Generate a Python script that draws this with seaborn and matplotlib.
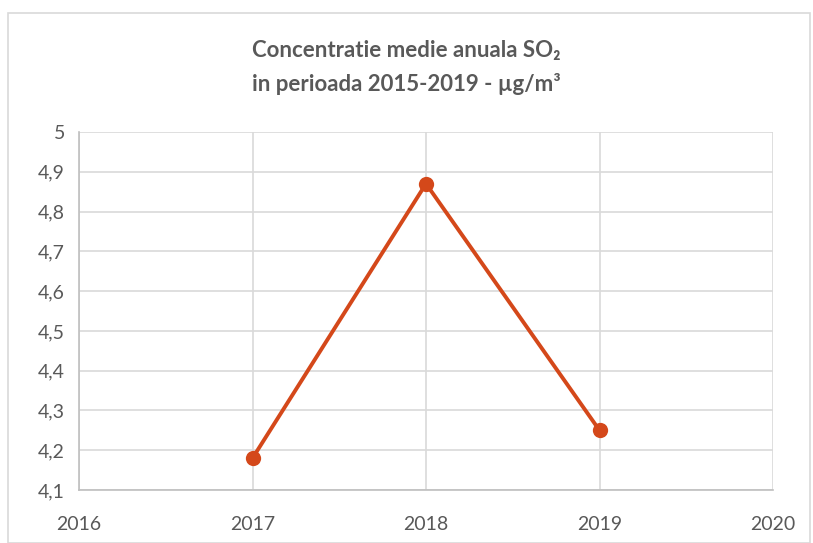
import matplotlib
matplotlib.use("Agg")
import matplotlib.pyplot as plt
import matplotlib.ticker as mticker
import seaborn as sns
import pandas as pd
from matplotlib.patches import Rectangle

# date
ani = [2017, 2018, 2019]
so2 = [4.18, 4.87, 4.25]
x_ticks = [2016, 2017, 2018, 2019, 2020]
y_ticks = [4.1, 4.2, 4.3, 4.4, 4.5, 4.6, 4.7, 4.8, 4.9, 5.0]

df = pd.DataFrame({"an": ani, "so2": so2})

sns.set_style("whitegrid")
plt.rcParams["font.family"] = ["Lato", "DejaVu Sans"]

fig = plt.figure(figsize=(8.13, 5.43), dpi=100)
ax = fig.add_axes([79/813, 53/543, 694/813, 358/543])

sns.lineplot(x="an", y="so2", data=df, ax=ax, color="#D4481A", linewidth=2.8,
             marker="o", markersize=11, markeredgewidth=0, clip_on=False)

ax.set_xlim(2016, 2020)
ax.set_ylim(4.1, 5.0)
ax.set_xticks(x_ticks)
ax.set_yticks(y_ticks)
ax.xaxis.set_major_formatter(mticker.FuncFormatter(lambda v, p: f"{int(round(v))}"))
ax.yaxis.set_major_formatter(mticker.FuncFormatter(
    lambda v, p: "5" if abs(v - 5) < 1e-9 else f"{v:.1f}".replace(".", ",")))
ax.tick_params(axis="both", length=0, labelsize=14, colors="#595959")
ax.tick_params(axis="x", pad=19)
ax.tick_params(axis="y", pad=10)
ax.set_xlabel("")
ax.set_ylabel("")
ax.grid(True, color="#D9D9D9", linewidth=1.2)
for s in ["top", "right"]:
    ax.spines[s].set_visible(False)
for s in ["left", "bottom"]:
    ax.spines[s].set_color("#BFBFBF")
    ax.spines[s].set_linewidth(1.2)

fig.text(0.5, 1 - 50/543, "Concentratie medie anuala SO\u2082", ha="center", va="center",
         fontsize=16, fontweight="bold", color="#595959")
fig.text(0.5, 1 - 84/543, "in perioada 2015-2019 - \u00b5g/m\u00b3", ha="center", va="center",
         fontsize=16, fontweight="bold", color="#595959")

fig.patches.append(Rectangle((8/813, 0), 802/813, 1 - 13/543, transform=fig.transFigure,
                             fill=False, edgecolor="#D9D9D9", linewidth=1.2))

fig.savefig("out.png", dpi=100)
